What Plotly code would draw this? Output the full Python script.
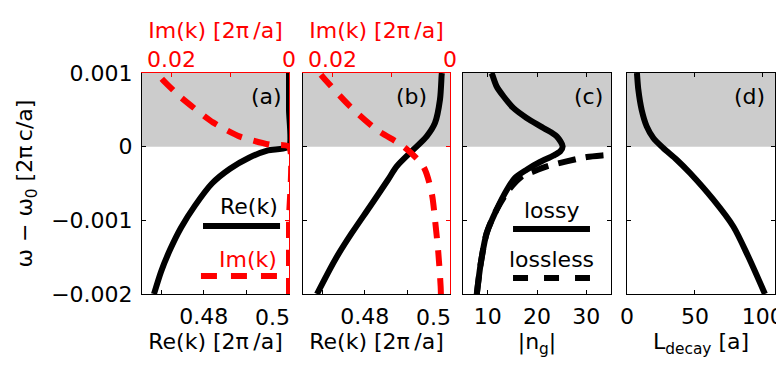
import plotly.graph_objects as go

# The page body has an 8px margin, so the figure is 8px smaller and all
# screen positions below are shifted by 8px.
SW, SH = 784, 372
OFF = 8
W, H = SW - OFF, SH - OFF
FONT = "DejaVu Sans"
FS = 22
RED = "#ff0000"
GRAY = "#cccccc"

# ---------------- data ----------------
# (a) lossless waveguide
a_re_omega = [-0.002, -0.0017, -0.0014, -0.0011, -0.0008, -0.0005, -0.0003, -0.00015, -0.00005, 0.0, 0.0005, 0.001]
a_re_k = [0.46831, 0.46995, 0.47207, 0.47465, 0.47793, 0.48192, 0.48615, 0.49061, 0.49507, 0.5, 0.5, 0.5]
a_im_omega = [-0.002, -0.001, 0.0, 0.000027, 0.000136, 0.00033, 0.00068, 0.00092, 0.001]
a_im_k = [0.0, 0.0, 0.0, 0.00323, 0.00833, 0.01293, 0.01854, 0.0216, 0.0224]

# (b) lossy waveguide
b_re_omega = [-0.002, -0.001537, -0.001175, -0.000812, -0.000449, -0.000268, -0.000041, 0.00014, 0.000322, 0.00064, 0.00098, 0.001]
b_re_k = [0.46878, 0.47301, 0.47693, 0.48122, 0.48545, 0.48749, 0.49139, 0.49453, 0.49648, 0.49765, 0.49805, 0.4981]
b_im_omega = [-0.002, -0.0019, -0.001447, -0.000993, -0.00063, -0.000268, 0.000004, 0.000231, 0.000548, 0.000912, 0.001]
b_im_k = [0.00155, 0.00159, 0.00198, 0.00255, 0.00311, 0.00454, 0.00794, 0.01247, 0.0170, 0.02126, 0.0222]

# (c) group index
c_lossy_omega = [-0.002, -0.001583, -0.001175, -0.000857, -0.000585, -0.000426, -0.000313, -0.000208, -0.000122,
                 -0.000064, 0.000004, 0.00014, 0.000254, 0.00039, 0.000526, 0.000684, 0.00082, 0.00098, 0.001]
c_lossy_ng = [7.8, 8.6, 9.8, 11.8, 13.9, 15.5, 17.9, 20.6, 23.3, 24.7, 25.2, 24.0, 21.3, 17.9, 15.2, 13.2, 11.8, 10.9, 10.7]
c_lossless_omega = [-0.002, -0.001583, -0.001175, -0.000857, -0.000585, -0.000404, -0.000336, -0.000268, -0.0002,
                    -0.00014, -0.000109, -0.00008]
c_lossless_ng = [7.8, 8.6, 9.8, 11.8, 14.3, 16.9, 19.3, 22.0, 26.0, 30.1, 34.8, 38.5]

# (d) decay length
d_omega = [-0.002, -0.001492, -0.001084, -0.00072, -0.000358, -0.000177, -0.000018, 0.000118, 0.000276, 0.0005,
           0.00078, 0.00098, 0.001]
d_ldecay = [101.6, 89.3, 78.3, 63.6, 46.4, 36.6, 26.7, 19.4, 14.5, 10.8, 8.3, 7.4, 7.3]

# tick labels
y_tickvals = [-0.002, -0.001, 0, 0.001]
y_ticktext = ["\u22120.002", "\u22120.001", "0", "0.001"]
re_tickvals = [0.48]
re_ticktext = ["0.48"]
re_minor = [0.47, 0.49]
re_edge_val = 0.5
re_edge_text = "0.5"
im_tickvals = [0.02, 0.0]
im_ticktext = ["0.02", "0"]
im_minor = [0.01]
ng_tickvals = [10, 20, 30]
ld_tickvals = [0, 50, 100]

# ---------------- layout geometry (screen pixels) ----------------
px_dom = {"a": (142, 289), "b": (303, 450), "c": (463, 611), "d": (627, 775)}
TOP, BOT = 73, 294
ydom = [(SH - BOT) / H, (SH - TOP) / H]
PH = BOT - TOP


def xd(p):
    l, r = px_dom[p]
    return [(l - OFF) / W, (r - OFF) / W]


def fy(py):  # fraction of the panel height for a screen y
    return (BOT - py) / PH


fig = go.Figure()

LW = 6
DASH_RED = "16px,12px"
# panel (a)
fig.add_trace(go.Scatter(x=a_re_k, y=a_re_omega, mode="lines", xaxis="x", yaxis="y",
                         line=dict(color="black", width=LW, shape="spline", smoothing=0.6), showlegend=False))
fig.add_trace(go.Scatter(x=a_im_k, y=a_im_omega, mode="lines", xaxis="x5", yaxis="y",
                         line=dict(color=RED, width=LW, dash=DASH_RED, shape="spline", smoothing=0.6),
                         showlegend=False))
# panel (b)
fig.add_trace(go.Scatter(x=b_re_k, y=b_re_omega, mode="lines", xaxis="x2", yaxis="y2",
                         line=dict(color="black", width=LW, shape="spline", smoothing=0.8), showlegend=False))
fig.add_trace(go.Scatter(x=b_im_k, y=b_im_omega, mode="lines", xaxis="x6", yaxis="y2",
                         line=dict(color=RED, width=LW, dash=DASH_RED, shape="spline", smoothing=0.8),
                         showlegend=False))
# panel (c)
fig.add_trace(go.Scatter(x=c_lossless_ng, y=c_lossless_omega, mode="lines", xaxis="x3", yaxis="y3",
                         line=dict(color="black", width=LW, dash="18px,10px", shape="spline", smoothing=0.8),
                         showlegend=False))
fig.add_trace(go.Scatter(x=c_lossy_ng, y=c_lossy_omega, mode="lines", xaxis="x3", yaxis="y3",
                         line=dict(color="black", width=LW, shape="spline", smoothing=0.8), showlegend=False))
# panel (d)
fig.add_trace(go.Scatter(x=d_ldecay, y=d_omega, mode="lines", xaxis="x4", yaxis="y4",
                         line=dict(color="black", width=LW, shape="spline", smoothing=0.8), showlegend=False))
# empty traces so that the red right-hand frame axes are drawn
for xa, ya in [("x", "y5"), ("x2", "y6")]:
    fig.add_trace(go.Scatter(x=[None], y=[None], mode="lines", xaxis=xa, yaxis=ya, showlegend=False,
                             hoverinfo="skip"))

base = dict(showline=True, linecolor="black", linewidth=1, ticks="inside", ticklen=4, tickcolor="black",
            showgrid=False, zeroline=False, tickfont=dict(family=FONT, size=FS, color="black"),
            automargin=False)


def yax(anchor, labels, mirror):
    d = dict(base, domain=ydom, anchor=anchor, range=[-0.002, 0.001], tickvals=y_tickvals,
             ticktext=y_ticktext, showticklabels=labels, ticklabelstandoff=4)
    d["mirror"] = "ticks" if mirror else False
    return d


title_font = dict(family=FONT, size=FS, color="black")
red_font = dict(family=FONT, size=FS, color=RED)
RE_TITLE = "Re(k) [2\u03c0\u2009/a]"
IM_TITLE = "Im(k) [2\u03c0\u2009/a]"
BOT_STANDOFF = 3


def re_axis(p, anchor):
    return dict(base, domain=xd(p), anchor=anchor, range=[0.4655, 0.5], tickvals=re_tickvals,
                ticktext=re_ticktext, ticklabelstandoff=BOT_STANDOFF,
                minor=dict(tickvals=re_minor, ticks="inside", ticklen=4, tickcolor="black", showgrid=False),
                title=dict(text=RE_TITLE, font=title_font, standoff=2))


def im_axis(over, anchor):
    return dict(base, overlaying=over, side="top", anchor=anchor, range=[0.025, 0], tickvals=im_tickvals,
                ticktext=im_ticktext, linecolor=RED, tickcolor=RED, ticklabelstandoff=-4,
                minor=dict(tickvals=im_minor, ticks="inside", ticklen=4, tickcolor=RED, showgrid=False),
                tickfont=red_font, title=dict(text=IM_TITLE, font=red_font, standoff=2))


def red_right(over, anchor):
    return dict(base, overlaying=over, side="right", anchor=anchor, range=[-0.002, 0.001], tickvals=y_tickvals,
                showticklabels=False, linecolor=RED, tickcolor=RED)


fig.update_layout(
    width=W, height=H, margin=dict(l=0, r=0, t=0, b=0),
    paper_bgcolor="white", plot_bgcolor="white",
    font=dict(family=FONT, size=FS, color="black"),
    xaxis=re_axis("a", "y"),
    yaxis=dict(yax("x", True, False),
               title=dict(text="\u03c9 \u2212 \u03c9<sub>0</sub> [2\u03c0\u2009c/a]", font=title_font, standoff=12)),
    xaxis2=re_axis("b", "y2"),
    yaxis2=yax("x2", False, False),
    xaxis3=dict(base, domain=xd("c"), anchor="y3", range=[5, 35], tickvals=ng_tickvals, mirror="ticks",
                ticklabelstandoff=BOT_STANDOFF, title=dict(text="|n<sub>g</sub>|", font=title_font, standoff=2)),
    yaxis3=yax("x3", False, True),
    xaxis4=dict(base, domain=xd("d"), anchor="y4", range=[0, 109], tickvals=ld_tickvals, mirror="ticks",
                ticklabelstandoff=BOT_STANDOFF,
                title=dict(text="L<sub>decay</sub> [a]", font=title_font, standoff=2)),
    yaxis4=yax("x4", False, True),
    xaxis5=im_axis("x", "y"),
    xaxis6=im_axis("x2", "y2"),
    yaxis5=red_right("y", "x"),
    yaxis6=red_right("y2", "x2"),
)

# gray shading for the band gap (omega > 0)
for xr, yr in [("x", "y"), ("x2", "y2"), ("x3", "y3"), ("x4", "y4")]:
    fig.add_shape(type="rect", xref=f"{xr} domain", yref=yr, x0=0, x1=1, y0=0, y1=0.001,
                  fillcolor=GRAY, line=dict(width=0), layer="below")

# the "0.5" tick label ends at its tick on the panel edge
for xr, yr in [("x", "y"), ("x2", "y2")]:
    fig.add_annotation(text=re_edge_text, xref=xr, yref=f"{yr} domain", x=re_edge_val, y=fy(317), xshift=3,
                       showarrow=False, xanchor="right", yanchor="middle", font=title_font)

# panel letters
for xr, yr, lab, xf in [("x", "y", "(a)", 0.844), ("x2", "y2", "(b)", 0.741),
                        ("x3", "y3", "(c)", 0.845), ("x4", "y4", "(d)", 0.83)]:
    fig.add_annotation(text=lab, xref=f"{xr} domain", yref=f"{yr} domain", x=xf, y=fy(96),
                       showarrow=False, xanchor="center", yanchor="middle", font=title_font)


def label(text, xr, yr, xf, py, color="black"):
    fig.add_annotation(text=text, xref=f"{xr} domain", yref=f"{yr} domain", x=xf, y=fy(py),
                       showarrow=False, xanchor="center", yanchor="middle",
                       font=dict(family=FONT, size=FS, color=color))


def sample(xr, yr, x0, x1, py, color, dash):
    fig.add_shape(type="line", xref=f"{xr} domain", yref=f"{yr} domain", x0=x0, x1=x1, y0=fy(py), y1=fy(py),
                  line=dict(color=color, width=LW, dash=dash))


# legend in (a)
label("Re(k)", "x", "y", 0.728, 206)
sample("x", "y", 0.415, 0.939, 226, "black", "solid")
label("Im(k)", "x", "y", 0.721, 259, RED)
sample("x", "y", 0.401, 0.925, 276, RED, "16px,14px")

# legend in (c)
label("lossy", "x3", "y3", 0.601, 210)
sample("x3", "y3", 0.338, 0.858, 229, "black", "solid")
label("lossless", "x3", "y3", 0.601, 259)
sample("x3", "y3", 0.338, 0.858, 278, "black", "15px,16px")

fig.write_html("out.html")
